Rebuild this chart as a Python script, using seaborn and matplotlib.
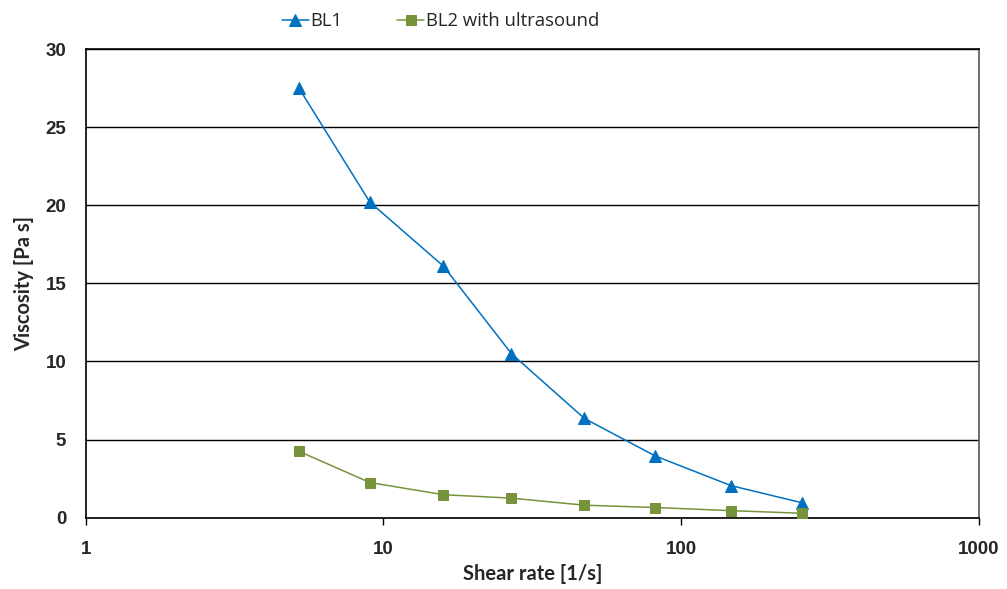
import numpy as np
import pandas as pd
import matplotlib
matplotlib.use("Agg")
import matplotlib.pyplot as plt
import seaborn as sns

shear_rate = [5.2, 9.0, 15.9, 26.9, 47.3, 81.8, 147, 255]
bl1 = [27.5, 20.2, 16.1, 10.5, 6.35, 3.95, 2.05, 0.95]
bl2 = [4.25, 2.25, 1.47, 1.25, 0.8, 0.65, 0.45, 0.28]
series_names = ["BL1", "BL2 with ultrasound"]
y_ticks = [0, 5, 10, 15, 20, 25, 30]
x_ticks = [1, 10, 100, 1000]
x_tick_labels = ["1", "10", "100", "1000"]

df = pd.DataFrame({
    "x": shear_rate * 2,
    "y": bl1 + bl2,
    "series": [series_names[0]] * len(bl1) + [series_names[1]] * len(bl2),
})

sns.set_theme(style="white")
plt.rcParams["font.family"] = ["Liberation Sans", "DejaVu Sans"]

fig = plt.figure(figsize=(10.07, 5.89), dpi=100)
ax = fig.add_axes([0.0851, 0.1211, 0.9722 - 0.0851, 0.9168 - 0.1211])

palette = {series_names[0]: "#0070C0", series_names[1]: "#77933C"}
markers = {series_names[0]: "^", series_names[1]: "s"}

for name in series_names:
    sub = df[df["series"] == name]
    sns.lineplot(data=sub, x="x", y="y", ax=ax, color=palette[name],
                 marker=markers[name], markersize=8 if name == "BL1" else 6.5,
                 markeredgecolor=palette[name], linewidth=1.1, label=name,
                 legend=False, zorder=3)

ax.set_xscale("log")
ax.set_xlim(1, 1000)
ax.set_ylim(0, 30)
ax.set_yticks(y_ticks)
ax.set_xticks(x_ticks)
ax.set_xticklabels(x_tick_labels)
ax.xaxis.set_minor_locator(matplotlib.ticker.NullLocator())
ax.yaxis.grid(True, color="black", linewidth=1.0)
ax.xaxis.grid(False)
ax.set_axisbelow(True)
for s in ax.spines.values():
    s.set_visible(True)
    s.set_color("black")
    s.set_linewidth(1.2)
ax.spines["right"].set_color("#555555")

ax.tick_params(axis="x", which="major", direction="out", length=5, width=1,
               color="black", bottom=True, labelsize=13.5, pad=12)
ax.tick_params(axis="y", which="major", left=False, length=0, labelsize=13.5, pad=14)
for lab in ax.get_xticklabels() + ax.get_yticklabels():
    lab.set_fontweight("bold")

label_font = {"family": ["Lato", "DejaVu Sans"], "size": 14.5, "weight": "bold"}
ax.set_xlabel("Shear rate [1/s]", fontdict=label_font, labelpad=4)
ax.set_ylabel("Viscosity [Pa s]", fontdict=label_font, labelpad=8)

handles, labels = ax.get_legend_handles_labels()
leg = fig.legend(handles, labels, loc="center left", bbox_to_anchor=(0.280, 0.964),
                 ncol=2, frameon=False, handlelength=1.45, handletextpad=0.1,
                 columnspacing=2.95, borderpad=0, borderaxespad=0,
                 prop={"family": ["Open Sans", "DejaVu Sans"], "size": 13.3})

fig.savefig("out.png", dpi=100)
